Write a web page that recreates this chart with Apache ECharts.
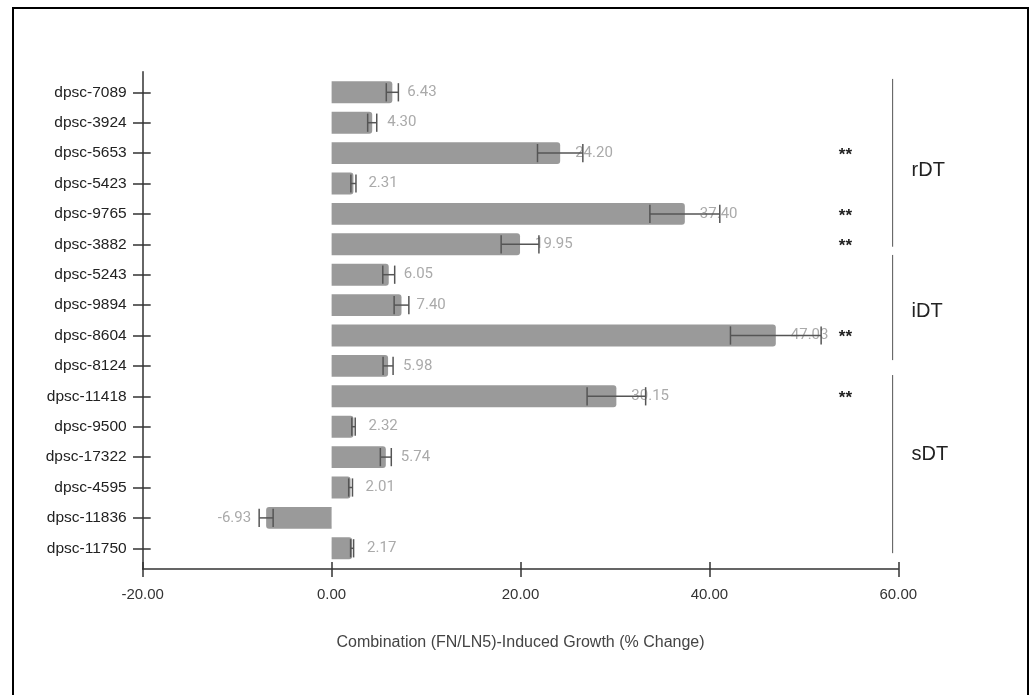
<!DOCTYPE html>
<html>
<head>
<meta charset="utf-8">
<script src="https://cdn.jsdelivr.net/npm/echarts@6/dist/echarts.min.js"></script>
<style>
html,body{margin:0;padding:0;background:#fff;}
#c{width:1032px;height:695px;}
</style>
</head>
<body>
<div id="c"></div>
<script>
// ---- data ----
const categories = ['dpsc-7089','dpsc-3924','dpsc-5653','dpsc-5423','dpsc-9765','dpsc-3882','dpsc-5243','dpsc-9894','dpsc-8604','dpsc-8124','dpsc-11418','dpsc-9500','dpsc-17322','dpsc-4595','dpsc-11836','dpsc-11750'];
const values = [6.43, 4.30, 24.20, 2.31, 37.40, 19.95, 6.05, 7.40, 47.03, 5.98, 30.15, 2.32, 5.74, 2.01, -6.93, 2.17];
const errors = [0.64, 0.48, 2.4, 0.27, 3.7, 2.0, 0.63, 0.78, 4.8, 0.53, 3.1, 0.18, 0.58, 0.2, 0.74, 0.16];
const significance = ['', '', '**', '', '**', '**', '', '', '**', '', '**', '', '', '', '', ''];
const groupNames = ['rDT', 'iDT', 'sDT'];
const groupFirst = [0, 6, 10];
const groupLast = [5, 9, 15];
const xMin = -20, xMax = 60, xInterval = 20;
const xTitle = 'Combination (FN/LN5)-Induced Growth (% Change)';

// ---- style (annotation placement, in band fractions) ----
const starX = 54.4;
const bracketX = 59.4;
const groupLabelX = 61.4;
const bracketTopOff = [-0.44, -0.65, -0.70];
const bracketBotOff = [0.08, -0.19, 0.16];
const groupLabelOff = [2.56, 1.22, 1.93];

const chart = echarts.init(document.getElementById('c'), null, {renderer: 'canvas'});

const axisColor = '#333';
const sansFont = '"Liberation Sans", Arial, sans-serif';

const barData = values.map(v => ({
  value: v,
  itemStyle: {borderRadius: v >= 0 ? [0, 3, 3, 0] : [3, 0, 0, 3]},
  label: {position: v >= 0 ? 'right' : 'left'}
}));

const errData = values.map((v, i) => [v - errors[i], v + errors[i], i]);
const starData = [];
significance.forEach((s, i) => { if (s) starData.push([starX, i, s]); });
const groupData = groupNames.map((g, k) => [bracketX, groupFirst[k], groupLast[k], k]);

const option = {
  animation: false,
  backgroundColor: '#fff',
  graphic: [{
    type: 'rect',
    shape: {x: 13, y: 8, width: 1015, height: 720},
    style: {fill: 'none', stroke: '#000', lineWidth: 2},
    silent: true
  }],
  grid: [
    {left: 142.7, right: 133.7, top: 71.7, bottom: 126},
    {left: 142.7, right: 133.7, top: 77.1, bottom: 131.5}
  ],
  xAxis: [
    {
      gridIndex: 0, type: 'value', min: xMin, max: xMax, interval: xInterval,
      axisLine: {show: true, onZero: false, lineStyle: {color: axisColor, width: 1.5}},
      axisTick: {show: true, length: 8, lineStyle: {color: axisColor, width: 1.5}},
      splitLine: {show: false},
      axisLabel: {margin: 18, color: '#333', fontFamily: sansFont, fontSize: 15, formatter: v => v.toFixed(2)},
      name: xTitle, nameLocation: 'middle', nameGap: 66,
      nameTextStyle: {color: '#444', fontFamily: sansFont, fontSize: 16}
    },
    {
      gridIndex: 0, type: 'value', min: xMin, max: xMax, interval: xInterval, position: 'bottom',
      axisLine: {show: false, onZero: false},
      axisTick: {show: true, inside: true, length: 7, lineStyle: {color: axisColor, width: 1.5}},
      axisLabel: {show: false}, splitLine: {show: false}
    },
    {gridIndex: 1, type: 'value', min: xMin, max: xMax, show: false, axisLine: {onZero: false}}
  ],
  yAxis: [
    {
      gridIndex: 0, type: 'value', min: 0, max: 1,
      axisLine: {show: true, onZero: false, lineStyle: {color: axisColor, width: 1.5}},
      axisTick: {show: false}, axisLabel: {show: false}, splitLine: {show: false}
    },
    {
      gridIndex: 1, type: 'category', data: categories, inverse: true, position: 'left',
      axisLine: {show: false, onZero: false},
      axisTick: {show: true, alignWithLabel: true, length: 9.7, lineStyle: {color: axisColor, width: 1.5}},
      axisLabel: {margin: 16, color: '#222', fontFamily: sansFont, fontSize: 15.5}
    },
    {
      gridIndex: 1, type: 'category', data: categories, inverse: true, position: 'left',
      axisLine: {show: false, onZero: false},
      axisTick: {show: true, inside: true, alignWithLabel: true, length: 8, lineStyle: {color: axisColor, width: 1.5}},
      axisLabel: {show: false}
    }
  ],
  series: [
    {
      type: 'bar', xAxisIndex: 2, yAxisIndex: 1, data: barData, barWidth: '72%',
      itemStyle: {color: '#9a9a9a'},
      label: {show: true, distance: 15, color: '#aaa', fontFamily: 'Roboto, sans-serif', fontSize: 15,
        formatter: p => Number(p.value).toFixed(2)},
      z: 2
    },
    {
      type: 'custom', xAxisIndex: 2, yAxisIndex: 1, data: errData,
      encode: {x: [0, 1], y: 2},
      z: 3,
      renderItem: function (params, api) {
        const y = api.value(2);
        const p1 = api.coord([api.value(0), y]);
        const p2 = api.coord([api.value(1), y]);
        const h = api.size([0, 1])[1] * 0.3;
        const st = {stroke: '#555', lineWidth: 1.5};
        return {type: 'group', children: [
          {type: 'line', shape: {x1: p1[0], y1: p1[1], x2: p2[0], y2: p2[1]}, style: st},
          {type: 'line', shape: {x1: p1[0], y1: p1[1] - h, x2: p1[0], y2: p1[1] + h}, style: st},
          {type: 'line', shape: {x1: p2[0], y1: p2[1] - h, x2: p2[0], y2: p2[1] + h}, style: st}
        ]};
      }
    },
    {
      type: 'custom', xAxisIndex: 2, yAxisIndex: 1, data: starData,
      encode: {x: 0, y: 1},
      renderItem: function (params, api) {
        const p = api.coord([api.value(0), api.value(1)]);
        return {type: 'text', x: p[0], y: p[1] + 2,
          style: {text: starData[params.dataIndex][2], fill: '#222', font: 'bold 17px ' + sansFont,
            align: 'center', verticalAlign: 'middle'}};
      }
    },
    {
      type: 'custom', xAxisIndex: 2, yAxisIndex: 1, data: groupData,
      encode: {x: 0, y: [1, 2]},
      clip: false,
      renderItem: function (params, api) {
        const k = params.dataIndex;
        const band = api.size([0, 1])[1];
        const top = api.coord([api.value(0), api.value(1)]);
        const bot = api.coord([api.value(0), api.value(2)]);
        const labX = api.coord([groupLabelX, api.value(1)])[0];
        const y1 = top[1] + bracketTopOff[k] * band;
        const y2 = bot[1] + bracketBotOff[k] * band;
        const ly = top[1] + groupLabelOff[k] * band;
        return {type: 'group', children: [
          {type: 'line', shape: {x1: top[0], y1: y1, x2: top[0], y2: y2},
            style: {stroke: '#555', lineWidth: 1}},
          {type: 'text', x: labX, y: ly,
            style: {text: groupNames[k], fill: '#222', font: '20px ' + sansFont,
              align: 'left', verticalAlign: 'middle'}}
        ]};
      }
    }
  ]
};
chart.setOption(option);
</script>
</body>
</html>
